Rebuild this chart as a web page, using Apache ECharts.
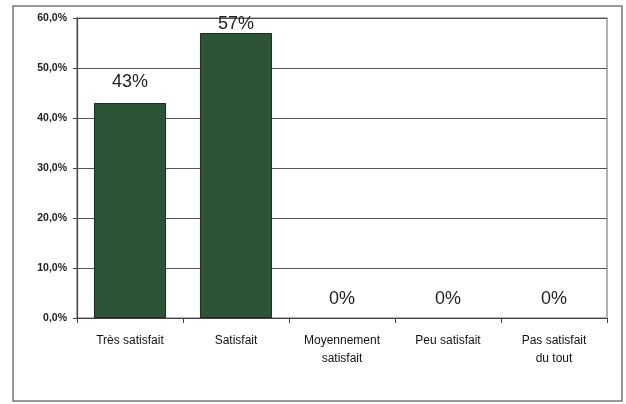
<!DOCTYPE html>
<html>
<head>
<meta charset="utf-8">
<script src="https://cdn.jsdelivr.net/npm/echarts@6/dist/echarts.min.js"></script>
<style>
html,body{margin:0;padding:0;background:#fff;}
#chart{width:626px;height:404px;}
</style>
</head>
<body>
<div id="chart"></div>
<script>
var categories = ['Très satisfait', 'Satisfait', 'Moyennement\nsatisfait', 'Peu satisfait', 'Pas satisfait\ndu tout'];
var values = [43, 57, 0, 0, 0];
var labelDistances = [12, 0, 10, 10, 10];
var yTicks = [0, 10, 20, 30, 40, 50, 60];

var chart = echarts.init(document.getElementById('chart'), null, {renderer: 'canvas'});
chart.setOption({
  animation: false,
  backgroundColor: '#fff',
  graphic: [{
    type: 'rect',
    shape: {x: 13, y: 6, width: 609, height: 395},
    style: {fill: 'none', stroke: '#777', lineWidth: 1.5},
    silent: true
  }],
  grid: {left: 77, right: 19, top: 18, bottom: 86, show: true, borderColor: '#999', borderWidth: 1.5, backgroundColor: 'transparent'},
  xAxis: {
    type: 'category',
    data: categories,
    axisLine: {lineStyle: {color: '#444', width: 1.2}},
    axisTick: {show: true, length: 5, alignWithLabel: false, lineStyle: {color: '#444'}},
    axisLabel: {fontFamily: 'Arial, Liberation Sans, sans-serif', fontSize: 12, color: '#111', margin: 14, lineHeight: 18, interval: 0}
  },
  yAxis: {
    type: 'value',
    min: yTicks[0],
    max: yTicks[yTicks.length - 1],
    interval: 10,
    axisLine: {show: true, lineStyle: {color: '#444', width: 1.2}},
    axisTick: {show: true, length: 4, inside: false, lineStyle: {color: '#444'}},
    splitLine: {lineStyle: {color: '#555', width: 1}},
    axisLabel: {
      fontFamily: 'Arial, Liberation Sans, sans-serif', fontSize: 10.5, fontWeight: 'bold', color: '#222', margin: 10,
      formatter: function (v) { return v.toFixed(1).replace('.', ',') + '%'; }
    }
  },
  series: [{
    type: 'bar',
    barWidth: '68%',
    data: values.map(function (v, i) {
      return {value: v, label: {distance: labelDistances[i]}, itemStyle: {borderWidth: v > 0 ? 1 : 0}};
    }),
    itemStyle: {color: '#2e5438', borderColor: '#1a2a1e', borderWidth: 1},
    label: {
      show: true,
      position: 'top',
      fontFamily: 'Arial, Liberation Sans, sans-serif',
      fontSize: 18,
      color: '#222',
      formatter: function (p) { return p.value + '%'; }
    }
  }]
});
</script>
</body>
</html>
